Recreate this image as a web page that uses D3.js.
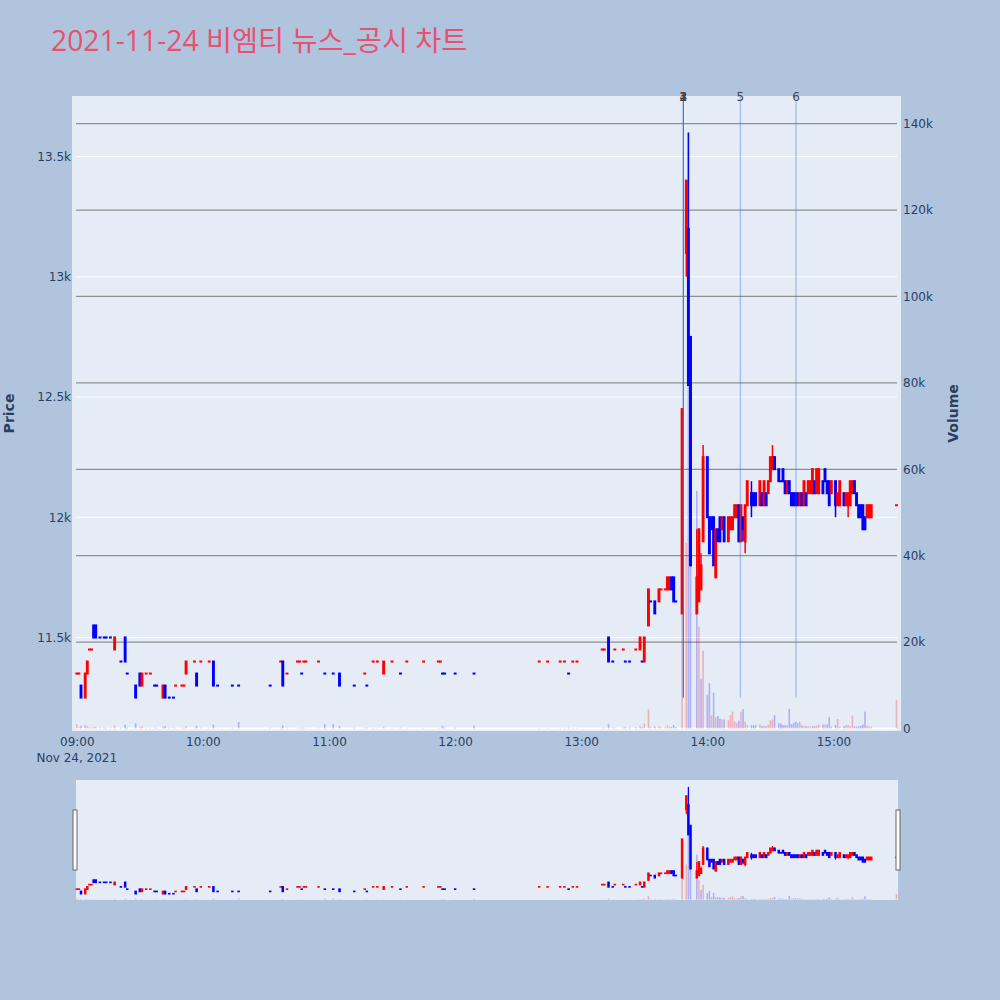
<!DOCTYPE html>
<html><head><meta charset="utf-8">
<script src="https://cdn.jsdelivr.net/npm/d3@7"></script>
<style>body{margin:0;background:#B0C4DE;} svg{display:block}</style>
</head><body>
<svg id="chart" width="1000" height="1000"></svg>
<script>
const tradeDate = "2021-11-24";
const chartTitle = "2021-11-24 비엠티 뉴스_공시 차트";
const times = [
 "09:00","09:01","09:02","09:04","09:05","09:06","09:07","09:08","09:09","09:11",
 "09:13","09:14","09:16","09:18","09:21","09:23","09:24","09:28","09:30","09:31",
 "09:33","09:35","09:37","09:38","09:41","09:42","09:44","09:46","09:47","09:50",
 "09:51","09:52","09:56","09:57","09:59","10:03","10:05","10:07","10:14","10:17",
 "10:32","10:37","10:38","10:40","10:45","10:46","10:47","10:48","10:49","10:55",
 "10:58","11:02","11:05","11:12","11:17","11:18","11:21","11:23","11:26","11:30",
 "11:34","11:37","11:45","11:52","11:53","11:54","11:55","12:00","12:09","12:40",
 "12:44","12:50","12:52","12:54","12:56","12:58","13:10","13:11","13:13","13:15",
 "13:16","13:20","13:21","13:23","13:26","13:28","13:29","13:30","13:32","13:33",
 "13:35","13:37","13:38","13:40","13:41","13:42","13:43","13:44","13:45","13:48",
 "13:50","13:51","13:52","13:55","13:56","13:57","13:58","14:00","14:01","14:02",
 "14:03","14:04","14:05","14:06","14:07","14:08","14:10","14:11","14:12","14:13",
 "14:14","14:15","14:16","14:17","14:18","14:19","14:21","14:22","14:23","14:25",
 "14:26","14:27","14:28","14:29","14:30","14:31","14:32","14:34","14:35","14:36",
 "14:37","14:38","14:39","14:40","14:41","14:42","14:43","14:44","14:45","14:46",
 "14:47","14:48","14:49","14:50","14:51","14:52","14:53","14:55","14:56","14:57",
 "14:58","14:59","15:01","15:02","15:03","15:05","15:06","15:07","15:08","15:09",
 "15:10","15:11","15:12","15:13","15:14","15:15","15:16","15:17","15:18","15:30"];
const opens = [
 11350,11350,11300,11250,11350,11450,11450,11550,11550,11500,
 11500,11500,11500,11450,11400,11500,11350,11300,11350,11300,
 11350,11350,11300,11300,11250,11300,11250,11250,11300,11300,
 11300,11350,11400,11350,11400,11400,11400,11300,11300,11300,
 11300,11400,11400,11350,11400,11400,11350,11400,11400,11400,
 11350,11350,11350,11300,11350,11300,11400,11400,11350,11400,
 11350,11400,11400,11400,11400,11350,11350,11350,11350,11400,
 11400,11400,11400,11350,11400,11400,11450,11450,11500,11400,
 11450,11450,11400,11400,11450,11450,11400,11400,11550,11650,
 11650,11650,11700,11700,11700,11700,11750,11750,11650,11600,
 13100,13200,12750,11600,11650,11700,11900,12250,12000,12000,
 12000,11750,11950,12000,11950,12000,11900,11950,11950,12000,
 12000,12050,11900,12000,11900,12050,12100,12100,12100,12050,
 12100,12050,12100,12100,12150,12200,12250,12200,12150,12200,
 12150,12100,12150,12100,12100,12100,12100,12050,12100,12050,
 12100,12100,12100,12100,12150,12100,12100,12150,12200,12150,
 12150,12100,12150,12050,12050,12100,12050,12050,12050,12100,
 12150,12100,12050,12050,12050,12000,12000,12000,12000,12050];
const highs = [
 11350,11350,11300,11350,11400,11450,11450,11550,11550,11500,
 11500,11500,11500,11500,11400,11500,11350,11300,11350,11350,
 11350,11350,11300,11300,11300,11300,11250,11250,11300,11300,
 11300,11400,11400,11350,11400,11400,11400,11300,11300,11300,
 11300,11400,11400,11350,11400,11400,11350,11400,11400,11400,
 11350,11350,11350,11300,11350,11300,11400,11400,11400,11400,
 11350,11400,11400,11400,11400,11350,11350,11350,11350,11400,
 11400,11400,11400,11350,11400,11400,11450,11450,11500,11400,
 11450,11450,11400,11400,11450,11500,11400,11500,11700,11650,
 11650,11700,11700,11700,11750,11750,11750,11750,11650,12450,
 13400,13600,12750,11950,11950,11850,12300,12250,12000,12000,
 12000,11950,11950,12000,12000,12000,12000,12000,12000,12050,
 12050,12050,12050,12000,12050,12150,12150,12100,12100,12150,
 12100,12150,12100,12150,12250,12300,12250,12200,12150,12200,
 12150,12150,12150,12100,12100,12100,12100,12100,12100,12150,
 12100,12150,12150,12200,12150,12200,12200,12150,12200,12150,
 12150,12150,12150,12100,12150,12100,12100,12100,12150,12150,
 12150,12100,12050,12050,12050,12000,12050,12050,12050,12050];
const lows = [
 11350,11350,11250,11250,11350,11450,11450,11500,11500,11500,
 11500,11500,11500,11450,11400,11400,11350,11250,11300,11300,
 11350,11350,11300,11300,11250,11250,11250,11250,11300,11300,
 11300,11350,11400,11300,11400,11400,11300,11300,11300,11300,
 11300,11400,11300,11350,11400,11400,11350,11400,11400,11400,
 11350,11350,11300,11300,11350,11300,11400,11400,11350,11400,
 11350,11400,11400,11400,11400,11350,11350,11350,11350,11400,
 11400,11400,11400,11350,11400,11400,11450,11450,11400,11400,
 11450,11450,11400,11400,11450,11450,11400,11400,11550,11650,
 11600,11650,11700,11700,11700,11700,11700,11650,11650,11600,
 13000,12550,11800,11600,11650,11700,11900,12000,11850,11950,
 11800,11750,11900,11900,11950,11900,11900,11950,11950,12000,
 12000,11900,11900,11900,11850,12050,12000,12050,12050,12050,
 12050,12050,12050,12100,12150,12200,12200,12150,12150,12150,
 12100,12100,12100,12050,12050,12050,12050,12050,12050,12050,
 12050,12100,12100,12100,12100,12100,12100,12100,12150,12100,
 12050,12100,12000,12050,12050,12050,12050,12000,12050,12100,
 12100,12050,12000,12000,11950,11950,12000,12000,12000,12050];
const closes = [
 11350,11350,11250,11350,11400,11450,11450,11500,11500,11500,
 11500,11500,11500,11500,11400,11400,11350,11250,11300,11350,
 11350,11350,11300,11300,11300,11250,11250,11250,11300,11300,
 11300,11400,11400,11300,11400,11400,11300,11300,11300,11300,
 11300,11400,11300,11350,11400,11400,11350,11400,11400,11400,
 11350,11350,11300,11300,11350,11300,11400,11400,11400,11400,
 11350,11400,11400,11400,11400,11350,11350,11350,11350,11400,
 11400,11400,11400,11350,11400,11400,11450,11450,11400,11400,
 11450,11450,11400,11400,11450,11500,11400,11500,11700,11650,
 11600,11700,11700,11700,11750,11750,11700,11650,11650,12450,
 13400,12550,11800,11750,11950,11800,12250,12000,11850,11950,
 11800,11950,11900,11900,12000,11900,12000,12000,12000,12050,
 12050,11900,12050,11950,12050,12150,12050,12050,12050,12150,
 12050,12150,12050,12150,12250,12250,12200,12150,12150,12150,
 12100,12150,12100,12050,12050,12050,12050,12100,12050,12150,
 12050,12150,12150,12200,12100,12200,12200,12100,12150,12100,
 12050,12150,12050,12100,12150,12050,12100,12100,12150,12150,
 12100,12050,12000,12000,11950,11950,12050,12050,12050,12050];
const volumes = [
 1000,300,600,800,500,300,200,400,300,200,
 200,150,200,700,200,900,200,1200,300,500,
 200,150,200,150,400,600,200,200,150,150,
 200,500,200,600,200,150,900,150,200,1500,
 200,200,700,200,150,150,200,150,150,200,
 1000,1000,600,200,200,200,150,150,400,150,
 200,150,150,150,150,600,200,200,700,150,
 150,150,150,200,150,150,200,200,1000,200,
 200,200,300,200,300,600,300,1200,4400,300,
 500,500,300,300,700,400,300,800,300,30000,
 43000,138000,45000,55000,23600,11500,18000,7800,10500,3000,
 8300,2600,2900,2300,2100,2100,1900,3100,3900,1600,
 1300,1800,3900,4500,1600,800,800,700,800,900,
 600,700,500,900,1900,2100,3100,1200,1200,800,
 800,800,4500,1000,1300,1600,1300,1600,700,500,
 600,500,400,600,500,700,900,900,900,900,
 2600,500,800,2200,400,500,800,800,600,3000,
 500,400,500,600,900,3900,600,500,400,6600];
const newsTimes = ["13:48:36","13:48:36","13:48:36","13:48:36","14:15:42","14:42:12"];
const newsLabels = ["1","2","3","4","5","6"];
const priceTicks = [11500,12000,12500,13000,13500];
const volumeTicks = [0,20000,40000,60000,80000,100000,120000,140000];
const timeTicks = ["09:00","10:00","11:00","12:00","13:00","14:00","15:00"];
const dateLabel = "Nov 24, 2021";
const priceRange = [11111, 13752];
const volumeRange = [-580, 146400];
const timeRange = ["08:59:37","15:30:15"];

const UP = "#ff0000", DOWN = "#0000ff";
const TITLE_FONT = "'Open Sans','Noto Sans CJK KR','Noto Sans',sans-serif";
const FONT = "'DejaVu Sans',Verdana,sans-serif";
const TXT = "#2a3f5f";

const parseT = d3.timeParse("%Y-%m-%d %H:%M:%S");
const toDate = s => parseT(tradeDate + " " + (s.length === 5 ? s + ":00" : s));

const rows = times.map((t, i) => ({t: toDate(t), o: opens[i], h: highs[i], l: lows[i], c: closes[i], v: volumes[i]}));
let prevC = null, prevDir = 1;
rows.forEach(r => {
  let dir;
  if (r.c > r.o) dir = 1; else if (r.c < r.o) dir = -1;
  else if (prevC === null) dir = 1;
  else dir = r.c > prevC ? 1 : r.c < prevC ? -1 : prevDir;
  r.dir = dir;
  r.vdir = prevC === null ? dir : (r.c > prevC ? 1 : r.c < prevC ? -1 : dir);
  prevC = r.c; prevDir = dir;
});

const svg = d3.select("#chart");
svg.append("rect").attr("width", 1000).attr("height", 1000).attr("fill", "#B0C4DE");

// title
svg.append("text").attr("x", 51).attr("y", 51).text(chartTitle)
  .attr("font-family", TITLE_FONT).attr("font-size", 28.3).attr("fill", "#EA5070");

// main plot geometry
const P = {l: 76, r: 897, t: 96, b: 731};
const x = d3.scaleTime().domain(timeRange.map(toDate)).range([P.l, P.r]);
const yP = d3.scaleLinear().domain(priceRange).range([P.b, P.t]);
const yV = d3.scaleLinear().domain(volumeRange).range([P.b, P.t]);

svg.append("rect").attr("x", 72).attr("y", P.t).attr("width", 901 - 72).attr("height", P.b - P.t).attr("fill", "#E5ECF6");

const grid = svg.append("g");
grid.selectAll(".pg").data(priceTicks).join("line")
  .attr("x1", P.l).attr("x2", P.r).attr("y1", d => yP(d)).attr("y2", d => yP(d))
  .attr("stroke", "#fff").attr("stroke-width", 1);
grid.selectAll(".vg").data(volumeTicks.filter(d => d > 0)).join("line")
  .attr("x1", P.l).attr("x2", P.r).attr("y1", d => yV(d)).attr("y2", d => yV(d))
  .attr("stroke", "#8f8f8f").attr("stroke-width", 1.2);
grid.append("line").attr("x1", P.l).attr("x2", P.r).attr("y1", yV(0)).attr("y2", yV(0))
  .attr("stroke", "#fff").attr("stroke-width", 2);

function drawSeries(g, xs, yp, yv, bodyW, wickW, volW, edge) {
  const y0 = yv(0);
  g.selectAll(".vol").data(rows).join("rect")
    .attr("x", d => xs(d.t) - volW / 2).attr("width", volW)
    .attr("y", d => yv(d.v)).attr("height", d => Math.max(0, y0 - yv(d.v)))
    .attr("fill", d => d.vdir > 0 ? UP : DOWN).attr("fill-opacity", 0.25);
  const cg = g.selectAll(".cdl").data(rows).join("g");
  cg.append("line")
    .attr("x1", d => xs(d.t)).attr("x2", d => xs(d.t))
    .attr("y1", d => yp(d.h)).attr("y2", d => yp(d.l))
    .attr("stroke", d => d.dir > 0 ? UP : DOWN).attr("stroke-width", wickW);
  cg.append("rect")
    .attr("x", d => xs(d.t) - bodyW / 2).attr("width", bodyW)
    .attr("y", d => yp(Math.max(d.o, d.c)))
    .attr("height", d => Math.max(0.05, Math.abs(yp(d.o) - yp(d.c))))
    .attr("fill", d => d.dir > 0 ? UP : DOWN)
    .attr("stroke", d => d.dir > 0 ? UP : DOWN).attr("stroke-width", edge);
}
drawSeries(svg.append("g"), x, yP, yV, 0.9, 1.5, 1.6, 2);

// news lines
const lowest = d3.min(lows);
const ng = svg.append("g");
ng.selectAll("line").data(newsTimes).join("line")
  .attr("x1", d => x(toDate(d))).attr("x2", d => x(toDate(d)))
  .attr("y1", yP(lowest)).attr("y2", P.t)
  .attr("stroke", "rgb(65,105,225)").attr("stroke-opacity", 0.5).attr("stroke-width", 1);
ng.selectAll("text").data(newsTimes).join("text")
  .attr("x", d => x(toDate(d))).attr("y", P.t + 5)
  .attr("text-anchor", "middle").attr("font-family", FONT).attr("font-size", 12)
  .attr("fill", "#444").text((d, i) => newsLabels[i]);

// axes
function styleAxis(g) {
  g.select(".domain").remove();
  g.selectAll(".tick line").remove();
  g.selectAll("text").attr("font-family", FONT).attr("font-size", 12).attr("fill", TXT);
}
svg.append("g").attr("transform", `translate(${P.l},0)`)
  .call(d3.axisLeft(yP).tickValues(priceTicks).tickFormat(d3.format("~s")).tickSize(0).tickPadding(5))
  .call(styleAxis);
svg.append("g").attr("transform", `translate(${P.r},0)`)
  .call(d3.axisRight(yV).tickValues(volumeTicks).tickFormat(d3.format("~s")).tickSize(0).tickPadding(6))
  .call(styleAxis);
svg.append("g").attr("transform", `translate(0,${P.b})`)
  .call(d3.axisBottom(x).tickValues(timeTicks.map(toDate)).tickFormat(d3.timeFormat("%H:%M")).tickSize(0).tickPadding(6))
  .call(styleAxis);
svg.append("text").attr("x", x(toDate(timeTicks[0]))).attr("y", 762).attr("text-anchor", "middle")
  .attr("font-family", FONT).attr("font-size", 12).attr("fill", TXT).text(dateLabel);

svg.append("text").attr("transform", `translate(14,${(P.t + P.b) / 2}) rotate(-90)`)
  .attr("text-anchor", "middle").attr("font-family", FONT).attr("font-size", 14)
  .attr("font-weight", "bold").attr("fill", TXT).text("Price");
svg.append("text").attr("transform", `translate(958,${(P.t + P.b) / 2}) rotate(-90)`)
  .attr("text-anchor", "middle").attr("font-family", FONT).attr("font-size", 14)
  .attr("font-weight", "bold").attr("fill", TXT).text("Volume");

// range slider
const S = {t: 780, b: 900};
const sg = svg.append("g");
sg.append("rect").attr("x", P.l).attr("y", S.t).attr("width", P.r + 1 - P.l).attr("height", S.b - S.t).attr("fill", "#E5ECF6");
const ySP = d3.scaleLinear().domain(priceRange).range([S.b, S.t]);
const ySV = d3.scaleLinear().domain(volumeRange).range([S.b, S.t]);
drawSeries(sg.append("g"), x, ySP, ySV, 0.9, 1.2, 1.6, 1.6);
[P.l - 1, P.r + 1].forEach(hx => {
  sg.append("rect").attr("x", hx - 2).attr("y", 810).attr("width", 4).attr("height", 60)
    .attr("fill", "#fff").attr("stroke", "#666").attr("stroke-width", 1);
});
</script>
</body></html>
